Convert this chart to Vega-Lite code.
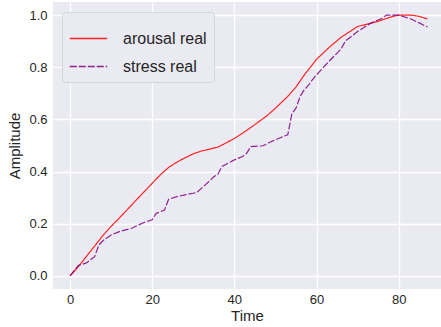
{
  "$schema": "https://vega.github.io/schema/vega-lite/v6.json",
  "width": 388,
  "height": 287,
  "autosize": {"type": "none"},
  "padding": {"left": 53, "top": 2, "right": 0, "bottom": 38},
  "background": "white",
  "config": {
    "view": {"fill": "#EAEAF2", "stroke": null},
    "font": "Liberation Sans",
    "axis": {
      "domain": false,
      "ticks": false,
      "grid": true,
      "gridColor": "white",
      "gridWidth": 1.3,
      "labelFont": "Liberation Sans",
      "labelFontSize": 13,
      "labelColor": "#262626",
      "titleFont": "Liberation Sans",
      "titleFontSize": 15,
      "titleFontWeight": "normal",
      "titleColor": "#262626"
    }
  },
  "data": {
    "values": [
      {"t": 0, "v": 0.0, "s": "arousal real"},
      {"t": 2, "v": 0.035, "s": "arousal real"},
      {"t": 4, "v": 0.075, "s": "arousal real"},
      {"t": 6, "v": 0.115, "s": "arousal real"},
      {"t": 8, "v": 0.155, "s": "arousal real"},
      {"t": 10, "v": 0.19, "s": "arousal real"},
      {"t": 12, "v": 0.222, "s": "arousal real"},
      {"t": 14, "v": 0.255, "s": "arousal real"},
      {"t": 16, "v": 0.289, "s": "arousal real"},
      {"t": 18, "v": 0.322, "s": "arousal real"},
      {"t": 20, "v": 0.355, "s": "arousal real"},
      {"t": 22, "v": 0.388, "s": "arousal real"},
      {"t": 24, "v": 0.416, "s": "arousal real"},
      {"t": 26, "v": 0.436, "s": "arousal real"},
      {"t": 28, "v": 0.453, "s": "arousal real"},
      {"t": 30, "v": 0.468, "s": "arousal real"},
      {"t": 32, "v": 0.479, "s": "arousal real"},
      {"t": 34, "v": 0.486, "s": "arousal real"},
      {"t": 36, "v": 0.494, "s": "arousal real"},
      {"t": 38, "v": 0.51, "s": "arousal real"},
      {"t": 40, "v": 0.527, "s": "arousal real"},
      {"t": 42, "v": 0.547, "s": "arousal real"},
      {"t": 45, "v": 0.58, "s": "arousal real"},
      {"t": 48, "v": 0.615, "s": "arousal real"},
      {"t": 50, "v": 0.643, "s": "arousal real"},
      {"t": 53, "v": 0.688, "s": "arousal real"},
      {"t": 55, "v": 0.724, "s": "arousal real"},
      {"t": 57, "v": 0.77, "s": "arousal real"},
      {"t": 60, "v": 0.83, "s": "arousal real"},
      {"t": 63, "v": 0.875, "s": "arousal real"},
      {"t": 66, "v": 0.915, "s": "arousal real"},
      {"t": 70, "v": 0.956, "s": "arousal real"},
      {"t": 75, "v": 0.976, "s": "arousal real"},
      {"t": 78, "v": 0.992, "s": "arousal real"},
      {"t": 80, "v": 1.0, "s": "arousal real"},
      {"t": 83, "v": 1.0, "s": "arousal real"},
      {"t": 85, "v": 0.995, "s": "arousal real"},
      {"t": 87, "v": 0.985, "s": "arousal real"},
      {"t": 0, "v": 0.0, "s": "stress real"},
      {"t": 2, "v": 0.04, "s": "stress real"},
      {"t": 4, "v": 0.05, "s": "stress real"},
      {"t": 6, "v": 0.074, "s": "stress real"},
      {"t": 7, "v": 0.118, "s": "stress real"},
      {"t": 8, "v": 0.135, "s": "stress real"},
      {"t": 10, "v": 0.157, "s": "stress real"},
      {"t": 12, "v": 0.17, "s": "stress real"},
      {"t": 15, "v": 0.183, "s": "stress real"},
      {"t": 18, "v": 0.205, "s": "stress real"},
      {"t": 20, "v": 0.215, "s": "stress real"},
      {"t": 21, "v": 0.24, "s": "stress real"},
      {"t": 23, "v": 0.253, "s": "stress real"},
      {"t": 24, "v": 0.294, "s": "stress real"},
      {"t": 26, "v": 0.304, "s": "stress real"},
      {"t": 28, "v": 0.311, "s": "stress real"},
      {"t": 30, "v": 0.317, "s": "stress real"},
      {"t": 31, "v": 0.322, "s": "stress real"},
      {"t": 33, "v": 0.35, "s": "stress real"},
      {"t": 35, "v": 0.38, "s": "stress real"},
      {"t": 36, "v": 0.39, "s": "stress real"},
      {"t": 37, "v": 0.42, "s": "stress real"},
      {"t": 40, "v": 0.445, "s": "stress real"},
      {"t": 42, "v": 0.458, "s": "stress real"},
      {"t": 43, "v": 0.47, "s": "stress real"},
      {"t": 44, "v": 0.496, "s": "stress real"},
      {"t": 47, "v": 0.499, "s": "stress real"},
      {"t": 49, "v": 0.515, "s": "stress real"},
      {"t": 52, "v": 0.535, "s": "stress real"},
      {"t": 53, "v": 0.541, "s": "stress real"},
      {"t": 54, "v": 0.622, "s": "stress real"},
      {"t": 55, "v": 0.643, "s": "stress real"},
      {"t": 56, "v": 0.688, "s": "stress real"},
      {"t": 57, "v": 0.713, "s": "stress real"},
      {"t": 58, "v": 0.73, "s": "stress real"},
      {"t": 59, "v": 0.752, "s": "stress real"},
      {"t": 60, "v": 0.771, "s": "stress real"},
      {"t": 63, "v": 0.822, "s": "stress real"},
      {"t": 66, "v": 0.87, "s": "stress real"},
      {"t": 67, "v": 0.9, "s": "stress real"},
      {"t": 68, "v": 0.912, "s": "stress real"},
      {"t": 70, "v": 0.937, "s": "stress real"},
      {"t": 73, "v": 0.967, "s": "stress real"},
      {"t": 76, "v": 0.988, "s": "stress real"},
      {"t": 77, "v": 1.0, "s": "stress real"},
      {"t": 80, "v": 1.0, "s": "stress real"},
      {"t": 83, "v": 0.985, "s": "stress real"},
      {"t": 85, "v": 0.97, "s": "stress real"},
      {"t": 87, "v": 0.954, "s": "stress real"}
    ]
  },
  "mark": {"type": "line", "strokeWidth": 1.2, "opacity": 0.85},
  "encoding": {
    "x": {
      "field": "t", "type": "quantitative", "title": "Time",
      "scale": {"domain": [-4.14, 90.3], "nice": false, "zero": false},
      "axis": {"values": [0, 20, 40, 60, 80], "labelPadding": 4, "titlePadding": 2}
    },
    "y": {
      "field": "v", "type": "quantitative", "title": "Amplitude",
      "scale": {"domain": [-0.05, 1.05], "nice": false, "zero": false},
      "axis": {"values": [0, 0.2, 0.4, 0.6, 0.8, 1.0], "format": ".1f", "labelPadding": 6, "titlePadding": 6}
    },
    "color": {
      "field": "s", "type": "nominal",
      "scale": {"domain": ["arousal real", "stress real"], "range": ["#ff0000", "#800080"]},
      "legend": {
        "title": null,
        "orient": "none",
        "legendX": 9,
        "legendY": 10,
        "fillColor": "#EAEAF2",
        "strokeColor": "#d6d6de",
        "cornerRadius": 3,
        "padding": 7,
        "symbolType": "stroke",
        "symbolSize": 1400,
        "symbolStrokeWidth": 1.3,
        "labelFontSize": 16,
        "labelColor": "#262626",
        "labelOffset": 15,
        "rowPadding": -11
      }
    },
    "strokeDash": {
      "field": "s", "type": "nominal",
      "scale": {"domain": ["arousal real", "stress real"], "range": [[1, 0], [7, 2]]},
      "legend": null
    }
  }
}
